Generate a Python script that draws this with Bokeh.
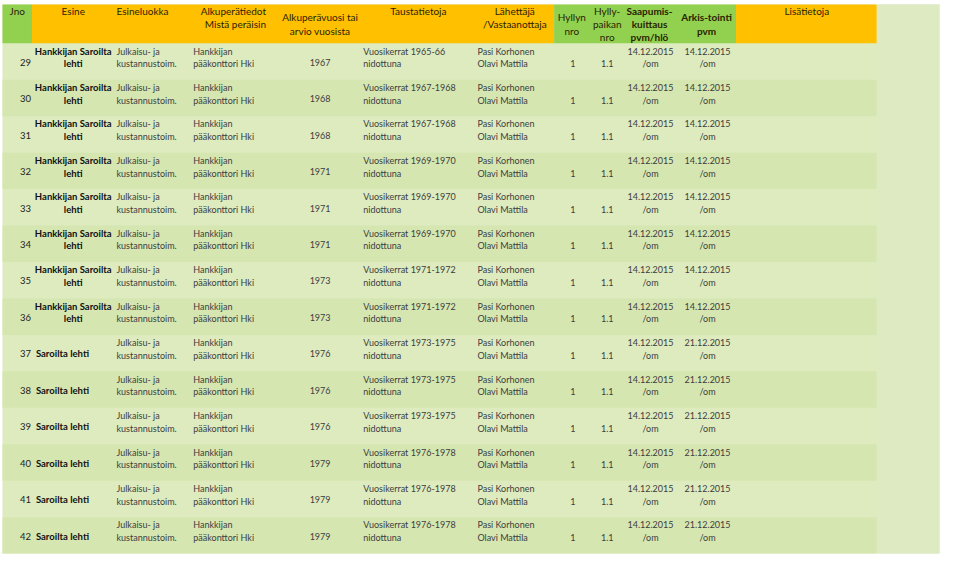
from bokeh.plotting import figure
from bokeh.models import Range1d, ColumnDataSource
from bokeh.core.properties import value
from bokeh.embed import file_html
from bokeh.resources import INLINE

# ---------------- data ----------------
jno = [29, 30, 31, 32, 33, 34, 35, 36, 37, 38, 39, 40, 41, 42]
esine = ["Hankkijan Saroilta lehti"] * 8 + ["Saroilta lehti"] * 6
esineluokka_1 = ["Julkaisu- ja"] * 14
esineluokka_2 = ["kustannustoim."] * 14
alkupera_1 = ["Hankkijan"] * 14
alkupera_2 = ["pääkonttori Hki"] * 14
vuosi = [1967, 1968, 1968, 1971, 1971, 1971, 1973, 1973, 1976, 1976, 1976, 1979, 1979, 1979]
tausta_1 = ["Vuosikerrat 1965-66", "Vuosikerrat 1967-1968", "Vuosikerrat 1967-1968",
            "Vuosikerrat 1969-1970", "Vuosikerrat 1969-1970", "Vuosikerrat 1969-1970",
            "Vuosikerrat 1971-1972", "Vuosikerrat 1971-1972",
            "Vuosikerrat 1973-1975", "Vuosikerrat 1973-1975", "Vuosikerrat 1973-1975",
            "Vuosikerrat 1976-1978", "Vuosikerrat 1976-1978", "Vuosikerrat 1976-1978"]
tausta_2 = ["nidottuna"] * 14
lahettaja_1 = ["Pasi Korhonen"] * 14
lahettaja_2 = ["Olavi Mattila"] * 14
hyllyn_nro = ["1"] * 14
hyllypaikan_nro = ["1.1"] * 14
saapumis_1 = ["14.12.2015"] * 14
saapumis_2 = ["/om"] * 14
arkis_1 = ["14.12.2015"] * 8 + ["21.12.2015"] * 6
arkis_2 = ["/om"] * 14

# header texts: (lines, x, anchor, bold)
ORANGE = "#FFC000"
GREEN = "#92D050"
headers = [
    (["Jno"], 17, "center", False),
    (["Esine"], 74, "center", False),
    (["Esineluokka"], 118, "left", False),
    (["Alkuperätiedot", "Mistä peräisin"], 270, "right", False),
    (["Alkuperävuosi tai", "arvio vuosista"], 325, "center", False),
    (["Taustatietoja"], 425, "center", False),
    (["Lähettäjä", "/Vastaanottaja"], 523, "center", False),
    (["Hyllyn", "nro"], 581, "center", False),
    (["Hylly-", "paikan", "nro"], 617, "center", False),
    (["Saapumis-", "kuittaus", "pvm/hlö"], 660, "center", True),
    (["Arkis-tointi", "pvm"], 718, "center", True),
    (["Lisätietoja"], 820, "center", False),
]
header_cells = [  # (x0, x1, color)
    (2, 32, GREEN), (32, 563, ORANGE), (563, 748, GREEN), (748, 891, ORANGE)
]

# ---------------- layout ----------------
W, H = 959, 573
p = figure(width=943, height=557, x_range=Range1d(0, W), y_range=Range1d(H, 0),
           output_backend="svg", toolbar_location=None, min_border=0,
           background_fill_color="white", border_fill_color="white")
p.axis.visible = False
p.grid.visible = False
p.outline_line_color = None

HEAD_TOP, HEAD_BOT = 4, 44
ROW_H = 37.5
n = len(jno)

# table background
p.quad(left=[2], right=[955], top=[HEAD_TOP], bottom=[HEAD_BOT + n * ROW_H],
       fill_color="#DDEBBF", line_color=None)
# alternating darker bands
tops = [HEAD_BOT + i * ROW_H for i in range(n)]
band_tops = [t for i, t in enumerate(tops) if i % 2 == 1]
p.quad(left=[2] * len(band_tops), right=[891] * len(band_tops), top=band_tops,
       bottom=[t + ROW_H for t in band_tops], fill_color="#D6E6B1", line_color=None)
# right column
p.quad(left=[892], right=[955], top=[HEAD_TOP], bottom=[HEAD_BOT + n * ROW_H],
       fill_color="#DEEBC2", line_color=None)
# header cells
for x0, x1, c in header_cells:
    p.quad(left=[x0], right=[x1], top=[HEAD_TOP], bottom=[HEAD_BOT], fill_color=c, line_color=None)

FONT = value("Lato")
FS = "9px"
HEAD_COL = "#2a2200"
TXT = "#3d3d3d"

def txt(xs, ys, texts, align="left", color=TXT, bold=False, size=FS):
    src = ColumnDataSource(dict(x=xs, y=ys, t=texts))
    p.text(x="x", y="y", text="t", source=src, text_font=FONT, text_font_size=size,
           text_align=align, text_baseline="middle", text_color=color,
           text_font_style="bold" if bold else "normal")

# headers
for lines, x, anchor, bold in headers:
    k = len(lines)
    if k == 1:
        ys = [11]
    elif k == 2:
        ys = [11, 24] if x in (270, 523) else [17, 31]
    else:
        ys = [11, 24, 38]
    txt([x] * k, ys, lines, align=anchor, color=HEAD_COL, bold=bold, size="10px")

L1 = [t + 8 for t in tops]
L2 = [t + 21 for t in tops]
MID = [t + 19.5 for t in tops]

txt([31] * n, MID, [str(j) for j in jno], align="right", color="#222222", size="9.5px")
# Esine
for i, e in enumerate(esine):
    if e.startswith("Hankkijan"):
        txt([74, 74], [L1[i], L2[i]], ["Hankkijan Saroilta", "lehti"], align="center",
            color="#111111", bold=True, size="9.5px")
    else:
        txt([36], [MID[i]], [e], align="left", color="#111111", bold=True, size="9.5px")
txt([118] * n, L1, esineluokka_1)
txt([118] * n, L2, esineluokka_2)
txt([196] * n, L1, alkupera_1)
txt([196] * n, L2, alkupera_2)
txt([325] * n, MID, [str(v) for v in vuosi], align="center")
txt([369] * n, L1, tausta_1)
txt([369] * n, L2, tausta_2)
txt([485] * n, L1, lahettaja_1)
txt([485] * n, L2, lahettaja_2)
txt([582] * n, L2, hyllyn_nro, align="center")
txt([617] * n, L2, hyllypaikan_nro, align="center")
txt([661] * n, L1, saapumis_1, align="center")
txt([661] * n, L2, saapumis_2, align="center")
txt([719] * n, L1, arkis_1, align="center")
txt([719] * n, L2, arkis_2, align="center")

open("out.html", "w").write(file_html(p, INLINE))
